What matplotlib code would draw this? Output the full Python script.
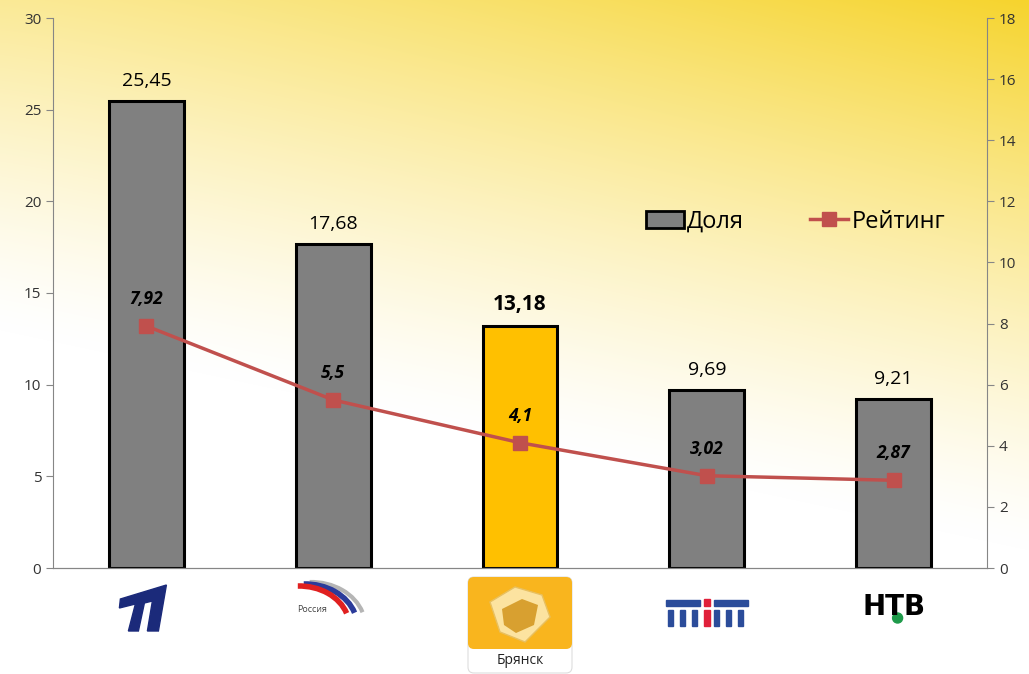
import numpy as np
import matplotlib
matplotlib.use('Agg')
import matplotlib.pyplot as plt
from matplotlib.patches import Polygon, Rectangle, FancyBboxPatch, Arc, Circle
from matplotlib.lines import Line2D

plt.rcParams['font.family'] = ['Open Sans', 'DejaVu Sans']

channels = ['Первый', 'Россия', 'ТНТ-Брянск', 'ТНТ', 'НТВ']
share = [25.45, 17.68, 13.18, 9.69, 9.21]
rating = [7.92, 5.5, 4.1, 3.02, 2.87]
share_labels = ['25,45', '17,68', '13,18', '9,69', '9,21']
rating_labels = ['7,92', '5,5', '4,1', '3,02', '2,87']
highlight = 2

W, H = 1029, 674
fig = plt.figure(figsize=(W / 100, H / 100), dpi=100)

# background gradient: yellow along the top, stronger to the right, white below
bg = fig.add_axes([0, 0, 1, 1], zorder=-10)
yy, xx = np.mgrid[0:H, 0:W]
fx = xx / W
reach = 330 + 220 * fx
t = np.clip(1.0 - yy / reach, 0, 1) ** 1.3
t = t * (0.5 + 0.5 * fx ** 1.2)
yellow = np.array([246, 212, 45]) / 255.0
img = 1.0 - t[..., None] * (1.0 - yellow)
bg.imshow(img, extent=[0, W, H, 0], aspect='auto')
bg.set_xlim(0, W)
bg.set_ylim(H, 0)
bg.axis('off')

ax = fig.add_axes([53 / W, 1 - 568 / H, (987 - 53) / W, (568 - 18) / H])
ax.patch.set_alpha(0)
x = np.arange(len(channels))
colors = ['#808080'] * len(channels)
colors[highlight] = '#FFC000'
ax.bar(x, share, width=0.4, color=colors, edgecolor='black', linewidth=2.2, zorder=2)
ax.set_xlim(-0.5, len(channels) - 0.5)
ax.set_ylim(0, 30)
ax.set_yticks(range(0, 31, 5))
ax.set_xticks([])

for i, (v, lab) in enumerate(zip(share, share_labels)):
    bold = i == highlight
    ax.annotate(lab, (i, v), xytext=(0, 8), textcoords='offset points',
                ha='center', va='bottom', fontsize=15 if bold else 14,
                fontweight='bold' if bold else 'normal', color='black')

ax2 = ax.twinx()
ax2.plot(x, rating, color='#C0504D', linewidth=2.5, marker='s', markersize=10,
         markerfacecolor='#C0504D', markeredgecolor='#C0504D', zorder=3)
ax2.set_ylim(0, 18)
ax2.set_yticks(range(0, 19, 2))
for i, (v, lab) in enumerate(zip(rating, rating_labels)):
    ax2.annotate(lab, (i, v), xytext=(0, 13), textcoords='offset points',
                 ha='center', va='bottom', fontsize=12.5, fontweight='bold',
                 fontstyle='italic', color='black')

spine_c = '#868686'
for a in (ax, ax2):
    a.spines['top'].set_visible(False)
    for s in ('left', 'right', 'bottom'):
        a.spines[s].set_color(spine_c)
    a.tick_params(axis='y', colors=spine_c, labelcolor='#333333', labelsize=11,
                  length=5, direction='out')
ax.spines['right'].set_visible(False)
ax2.spines['left'].set_visible(False)

handles = [Rectangle((0, 0), 1, 1, facecolor='#808080', edgecolor='black', linewidth=2),
           Line2D([0], [0], color='#C0504D', linewidth=2.5, marker='s', markersize=10)]
ax2.legend(handles, ['Доля', 'Рейтинг'], loc='center', bbox_to_anchor=(0.795, 0.63),
           ncol=2, frameon=False, fontsize=17, handlelength=1.6, handletextpad=0.15,
           columnspacing=2.8)

# logos under the categories, drawn in figure pixels (y grows downwards here)
ov = fig.add_axes([0, 0, 1, 1], zorder=5)
ov.set_xlim(0, W)
ov.set_ylim(H, 0)
ov.axis('off')
ov.patch.set_alpha(0)
cx = [ax.transData.transform((i, 0))[0] for i in x]


def logo_first(c, y):
    navy = '#1B2A7A'
    ov.add_patch(Polygon([(c - 26, y - 8), (c + 20, y - 22), (c + 12, y + 24), (c + 1, y + 24),
                          (c + 6, y - 6), (c - 2, y - 4), (c - 8, y + 24), (c - 18, y + 24),
                          (c - 11, y - 3), (c - 27, y + 1)], closed=True, color=navy))


def logo_russia(c, y):
    for dx, rx, ry, col, w in [(-22, 54, 44, '#B5B5B5', 3),
                               (-28, 52, 42, '#2B3B9A', 4),
                               (-34, 50, 40, '#E02020', 4)]:
        ov.add_patch(Arc((c + dx, y + 32), 2 * rx, 2 * ry, theta1=268, theta2=345,
                         color=col, linewidth=w))
    ov.text(c - 36, y + 15, 'Россия', fontsize=6.5, color='#444444', ha='left', va='center')


def logo_bryansk(c, y):
    ov.add_patch(FancyBboxPatch((c - 52, y - 30), 104, 96, boxstyle='round,pad=0,rounding_size=6',
                                facecolor='white', edgecolor='#DDDDDD', linewidth=0.8))
    ov.add_patch(FancyBboxPatch((c - 52, y - 30), 104, 72, boxstyle='round,pad=0,rounding_size=6',
                                facecolor='#F9B51E', edgecolor='none'))
    ov.add_patch(Polygon([(c - 30, y - 5), (c - 5, y - 20), (c + 22, y - 12), (c + 30, y + 10),
                          (c + 5, y + 35), (c - 20, y + 25)], closed=True, facecolor='#FCE3A0',
                         edgecolor='#E8C060'))
    ov.add_patch(Polygon([(c - 18, y + 2), (c + 2, y - 8), (c + 18, y - 2), (c + 14, y + 18),
                          (c - 4, y + 26), (c - 16, y + 18)], closed=True, facecolor='#D8A030',
                         edgecolor='none'))
    ov.text(c, y + 54, 'Брянск', fontsize=10, color='#222222', ha='center', va='center')


def logo_tnt(c, y):
    blue, red = '#2B4C9A', '#E0203A'
    ov.add_patch(Rectangle((c - 41, y - 7), 34, 6, color=blue))
    ov.add_patch(Rectangle((c + 7, y - 7), 34, 6, color=blue))
    ov.add_patch(Rectangle((c - 3, y - 8), 6, 7, color=red))
    ov.add_patch(Rectangle((c - 3, y + 3), 6, 16, color=red))
    for dx in (-36, -24, -12, 10, 22, 34):
        ov.add_patch(Rectangle((c + dx - 2.5, y + 3), 5, 16, color=blue))


def logo_ntv(c, y):
    ov.text(c, y, 'НТВ', fontsize=20, fontweight='bold', color='black', ha='center',
            va='center', family=['DejaVu Sans'])
    ov.add_patch(Circle((c + 4, y + 11), 5, color='#1E9A4A'))


ly = 607
logo_first(cx[0], ly)
logo_russia(cx[1], ly - 13)
logo_bryansk(cx[2], ly)
logo_tnt(cx[3], ly)
logo_ntv(cx[4], ly)

fig.savefig('out.png', dpi=100)
